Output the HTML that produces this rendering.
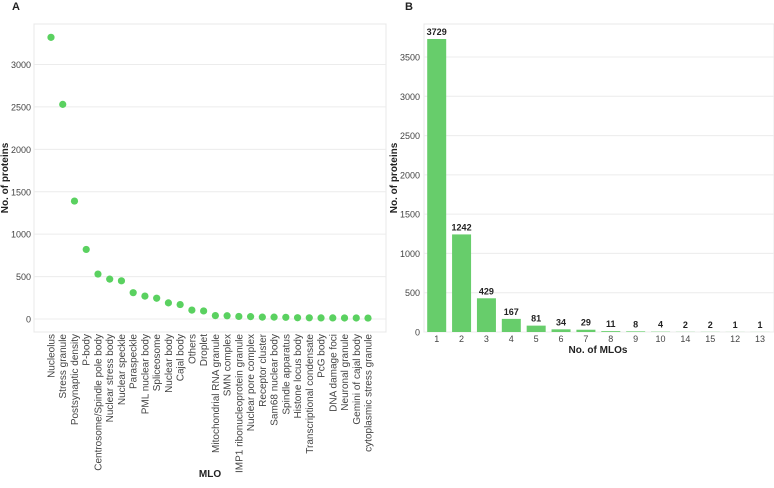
<!DOCTYPE html>
<html><head><meta charset="utf-8"><style>
body{margin:0;background:#fff;font-family:"Liberation Sans",sans-serif}
svg text{font-family:"Liberation Sans",sans-serif}
</style></head><body>
<svg width="774" height="483" viewBox="0 0 774 483">
<g id="A"></g>
<g id="B"></g>
</svg>
<script>
const mloNames=["Nucleolus","Stress granule","Postsynaptic density","P-body","Centrosome/Spindle pole body","Nuclear stress body","Nuclear speckle","Paraspeckle","PML nuclear body","Spliceosome","Nuclear body","Cajal body","Others","Droplet","Mitochondrial RNA granule","SMN complex","IMP1 ribonucleoprotein granule","Nuclear pore complex","Receptor cluster","Sam68 nuclear body","Spindle apparatus","Histone locus body","Transcriptional condensate","PcG body","DNA damage foci","Neuronal granule","Gemini of cajal body","cytoplasmic stress granule"];
const mloCounts=[3320,2530,1390,820,530,470,450,310,270,245,190,170,105,95,40,38,30,28,22,22,20,15,14,13,13,12,12,11];
const aTicks=[0,500,1000,1500,2000,2500,3000];
const nMLO=["1","2","3","4","5","6","7","8","9","10","14","15","12","13"];
const nProteins=[3729,1242,429,167,81,34,29,11,8,4,2,2,1,1];
const bTicks=[0,500,1000,1500,2000,2500,3000,3500];
const NS="http://www.w3.org/2000/svg";
function mk(p,t,a,txt){const e=document.createElementNS(NS,t);for(const k in a)e.setAttribute(k,a[k]);if(txt!==undefined)e.textContent=txt;p.appendChild(e);return e;}
// Panel A
const A=document.getElementById('A');
const ay=v=>319-v*(254.5/3000);
const ax=i=>51+i*(317/27);
let t=mk(A,'text',{x:12,y:10,'font-size':11,'font-weight':'bold',fill:'#222'},'A');

let f=mk(A,'rect',{x:34,y:24,width:352,height:308,fill:'none',stroke:'#e8e8e8'});

aTicks.forEach(v=>{
 let g=mk(A,'line',{x1:34,x2:386,y1:ay(v),y2:ay(v),stroke:'#ececec'});
 
 let l=mk(A,'text',{x:31,y:ay(v)+3.5,'font-size':9,'text-anchor':'end',fill:'#444'},v);
 
});
mloCounts.forEach((v,i)=>{
 let c=mk(A,'circle',{cx:ax(i),cy:ay(v),r:3.6,fill:'#5ad160'});
 
 let l=mk(A,'text',{x:0,y:0,'font-size':10,'text-anchor':'end',fill:'#444',transform:`translate(${ax(i)+3.5},334) rotate(-90)`},mloNames[i]);
 
});
t=mk(A,'text',{x:0,y:0,'font-size':10,'font-weight':'bold','text-anchor':'middle',fill:'#222',transform:'translate(8,178) rotate(-90)'},'No. of proteins');

t=mk(A,'text',{x:210,y:477,'font-size':10,'font-weight':'bold','text-anchor':'middle',fill:'#222'},'MLO');

// Panel B
const B=document.getElementById('B');
const by=v=>332-v*(275/3500);
const bx=i=>436.7+i*(323.3/13);
t=mk(B,'text',{x:405,y:10,'font-size':11,'font-weight':'bold',fill:'#222'},'B');

f=mk(B,'rect',{x:424,y:24,width:350,height:308,fill:'none',stroke:'#e8e8e8'});

bTicks.forEach(v=>{
 let g=mk(B,'line',{x1:424,x2:774,y1:by(v),y2:by(v),stroke:'#ececec'});
 
 let l=mk(B,'text',{x:420,y:by(v)+3.5,'font-size':9,'text-anchor':'end',fill:'#444'},v);
 
});
nProteins.forEach((v,i)=>{
 let r=mk(B,'rect',{x:bx(i)-9.5,y:by(v),width:19,height:332-by(v),fill:'#67cd6b'});
 
 let l=mk(B,'text',{x:bx(i),y:by(v)-4,'font-size':9,'font-weight':'bold','text-anchor':'middle',fill:'#222'},v);
 
 let x=mk(B,'text',{x:bx(i),y:342,'font-size':9,'text-anchor':'middle',fill:'#444'},nMLO[i]);
 
});
t=mk(B,'text',{x:0,y:0,'font-size':10,'font-weight':'bold','text-anchor':'middle',fill:'#222',transform:'translate(397,178) rotate(-90)'},'No. of proteins');

t=mk(B,'text',{x:598,y:353,'font-size':10,'font-weight':'bold','text-anchor':'middle',fill:'#222'},'No. of MLOs');

</script>
</body></html>
